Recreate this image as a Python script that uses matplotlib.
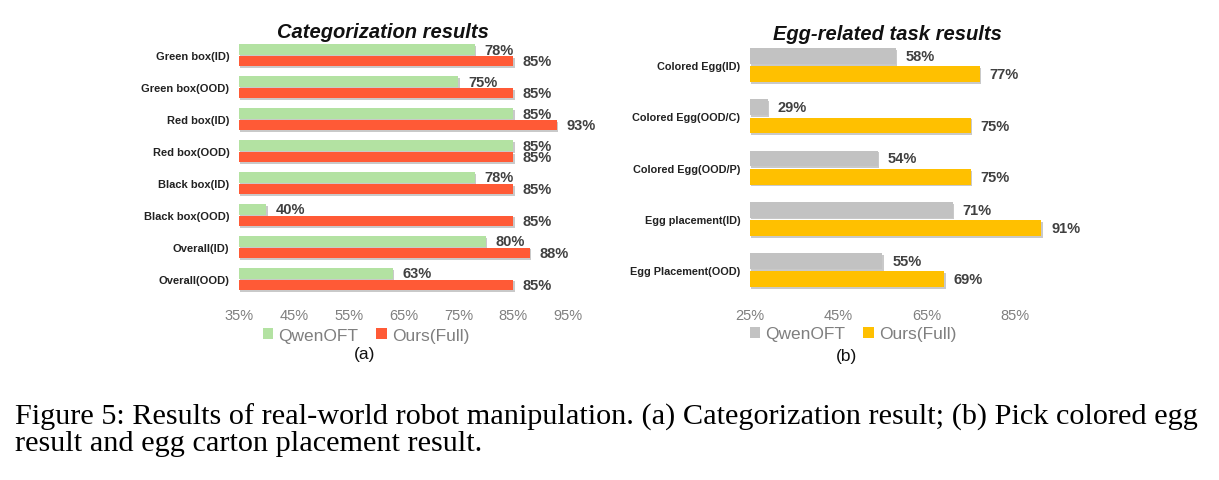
import matplotlib
matplotlib.use("Agg")
import matplotlib.pyplot as plt
import matplotlib.patheffects as pe
from matplotlib.patches import Patch
import numpy as np

# ---------------- data ----------------
cat_a = ["Green box(ID)", "Green box(OOD)", "Red box(ID)", "Red box(OOD)",
         "Black box(ID)", "Black box(OOD)", "Overall(ID)", "Overall(OOD)"]
qwen_a = [78, 75, 85, 85, 78, 40, 80, 63]
ours_a = [85, 85, 93, 85, 85, 85, 88, 85]
ticks_a = [35, 45, 55, 65, 75, 85, 95]

cat_b = ["Colored Egg(ID)", "Colored Egg(OOD/C)", "Colored Egg(OOD/P)",
         "Egg placement(ID)", "Egg Placement(OOD)"]
qwen_b = [58, 29, 54, 71, 55]
ours_b = [77, 75, 75, 91, 69]
ticks_b = [25, 45, 65, 85]

series_names = ["QwenOFT", "Ours(Full)"]
title_a = "Categorization results"
title_b = "Egg-related task results"
caption1 = ("Figure 5: Results of real-world robot manipulation. (a) Categorization result; "
            "(b) Pick colored egg")
caption2 = "result and egg carton placement result."

# ---------------- style ----------------
W, H = 1219, 481
fig = plt.figure(figsize=(W / 100, H / 100), dpi=100)
plt.rcParams['font.family'] = ['Liberation Sans', 'DejaVu Sans']

GREEN = "#b3e2a2"
RED = "#ff5a36"
GRAY = "#c2c2c2"
YELLOW = "#ffc000"
TXT = "#404040"
TICK = "#7f7f7f"

shadow = [pe.SimplePatchShadow(offset=(1.0, -1.3), shadow_rgbFace="#888888", alpha=0.45),
          pe.Normal()]


def px_axes(x0, x1, y0, y1):
    return fig.add_axes([x0 / W, 1 - y1 / H, (x1 - x0) / W, (y1 - y0) / H])


def panel(ax, cats, s1, s2, c1, c2, ticks, xlim, bh, off, lab_fs):
    y = np.arange(len(cats))
    b1 = ax.barh(y - off, [v - xlim[0] for v in s1], left=xlim[0], height=bh, color=c1)
    b2 = ax.barh(y + off, [v - xlim[0] for v in s2], left=xlim[0], height=bh, color=c2)
    for b in list(b1) + list(b2):
        b.set_path_effects(shadow)
    for yy, v in zip(y - off, s1):
        ax.annotate(f"{v}%", (v, yy), xytext=(7, 0), textcoords="offset points",
                    va="center", ha="left", fontsize=10.5, fontweight="bold", color=TXT)
    for yy, v in zip(y + off, s2):
        ax.annotate(f"{v}%", (v, yy), xytext=(7, 0), textcoords="offset points",
                    va="center", ha="left", fontsize=10.5, fontweight="bold", color=TXT)
    ax.set_xlim(*xlim)
    ax.set_ylim(len(cats) - 0.5, -0.5)
    ax.set_yticks(y)
    ax.set_yticklabels(cats, fontsize=lab_fs, fontweight="bold", color="#222222")
    ax.set_xticks(ticks)
    ax.set_xticklabels([f"{t}%" for t in ticks], fontsize=10.5, color=TICK)
    ax.tick_params(axis="x", length=0, pad=9)
    ax.tick_params(axis="y", length=0, pad=7)
    for s in ax.spines.values():
        s.set_visible(False)
    ax.set_facecolor("none")


axa = px_axes(239, 568, 40.5, 296)
panel(axa, cat_a, qwen_a, ours_a, GREEN, RED, ticks_a, (35, 95), 0.33, 0.18, 8)

axb = px_axes(750, 1059, 40.7, 296.5)
panel(axb, cat_b, qwen_b, ours_b, GRAY, YELLOW, ticks_b, (25, 95), 0.31, 0.178, 7.8)

# titles
fig.text(383 / W, 1 - 33 / H, title_a, ha="center", va="center", fontsize=14.5,
         fontweight="bold", fontstyle="italic", color="#111111")
fig.text(887 / W, 1 - 34 / H, title_b, ha="center", va="center", fontsize=14.5,
         fontweight="bold", fontstyle="italic", color="#111111")

# legends
for cx, cy, cols in [(366, 336, (GREEN, RED)), (853, 335, (GRAY, YELLOW))]:
    handles = [Patch(facecolor=c, edgecolor="none") for c in cols]
    fig.legend(handles, series_names, loc="center", bbox_to_anchor=(cx / W, 1 - cy / H),
               ncol=2, frameon=False, fontsize=12.5, handlelength=0.6, handleheight=0.6,
               handletextpad=0.3, columnspacing=1.05, labelcolor=TICK, borderpad=0)

fig.text(365 / W, 1 - 355 / H, "(a)", ha="center", va="center", fontsize=12.5, color="#111111")
fig.text(847 / W, 1 - 357 / H, "(b)", ha="center", va="center", fontsize=12.5, color="#111111")

# caption
fig.text(15 / W, 1 - 424.5 / H, caption1, ha="left", va="baseline", fontsize=21.8,
         family="Liberation Serif", color="black")
fig.text(15 / W, 1 - 451 / H, caption2, ha="left", va="baseline", fontsize=21.8,
         family="Liberation Serif", color="black")

fig.savefig("out.png", dpi=100, facecolor="white")
